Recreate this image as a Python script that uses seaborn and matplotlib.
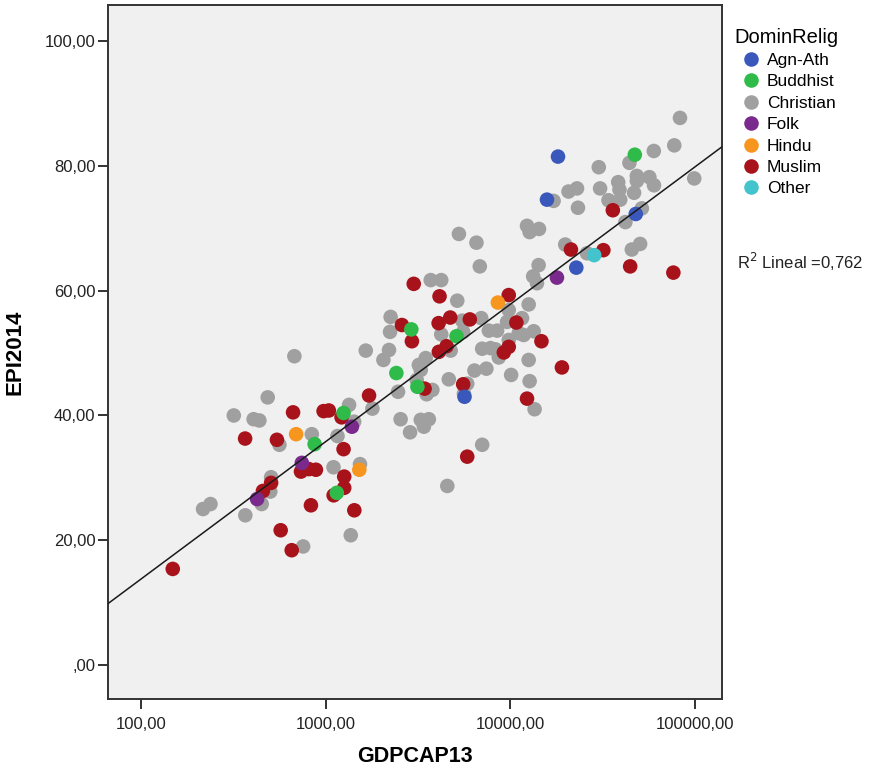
import seaborn as sns
import pandas as pd
import matplotlib.pyplot as plt
import numpy as np

# values (GDP per capita, EPI score)
agn_gdp = [18110, 15780, 47780, 22750, 5640]
agn_epi = [81.5, 74.6, 72.3, 63.7, 43.0]

bud_gdp = [47210, 2904, 2410, 5105, 1247, 869, 3133, 1146]
bud_epi = [81.8, 53.8, 46.8, 52.7, 40.4, 35.4, 44.6, 27.6]

folk_gdp = [17870, 1384, 741, 424]
folk_epi = [62.1, 38.2, 32.4, 26.6]

hindu_gdp = [8550, 690, 1518]
hindu_epi = [58.1, 37.0, 31.3]

other_gdp = [28440]
other_epi = [65.7]

mus_gdp = [35890, 21280, 31890, 44560, 76380, 19010, 14730, 9795, 10770, 9795,
           9210, 12300, 5835, 5545, 2993, 4130, 2583, 2925, 4083, 4720,
           6026, 4508, 4093, 3428, 1714, 972, 1038, 1216, 664, 365,
           543, 733, 809, 883, 505, 456, 830, 569, 653, 148,
           1247, 1257, 1257, 1102, 1426]
mus_epi = [72.9, 66.6, 66.5, 63.9, 62.9, 47.7, 51.9, 59.3, 54.9, 51.0,
           50.1, 42.7, 33.4, 45.0, 61.1, 59.1, 54.5, 51.9, 54.8, 55.7,
           55.4, 51.1, 50.2, 44.3, 43.2, 40.7, 40.8, 39.7, 40.5, 36.3,
           36.1, 31.0, 31.4, 31.3, 29.2, 27.9, 25.6, 21.6, 18.4, 15.4,
           34.6, 30.2, 28.4, 27.2, 24.8]

chr_gdp = [675, 484, 317, 406, 436, 560, 839, 1100, 505, 500,
           449, 216, 237, 366, 753, 3700, 4219, 5152, 2243, 2227,
           5480, 6950, 9590, 9795, 4219, 5545, 7640, 8470, 11090, 9795,
           8300, 7030, 8650, 4745, 1645, 2198, 2050, 3475, 3190, 3267,
           3105, 6385, 7410, 10090, 4635, 5835, 5600, 3777, 3515, 2461,
           1336, 1787, 1423, 1156, 2541, 3267, 3614, 3397, 2859, 7030,
           1531, 4550, 1364, 82960, 77250, 59840, 44150, 30120, 99100, 48420,
           48420, 56620, 59980, 38370, 38990, 30620, 46770, 22960, 20650, 17140,
           33980, 39370, 23230, 51540, 41980, 12300, 12710, 14290, 5260, 6545,
           6825, 19820, 26000, 50460, 45480, 14220, 13280, 13930, 12560, 11560,
           11800, 13370, 7800, 12560, 12710, 13520]
chr_epi = [49.5, 42.9, 40.0, 39.4, 39.2, 35.3, 37.0, 31.7, 30.1, 27.8,
           25.8, 25.0, 25.8, 24.0, 19.0, 61.7, 61.7, 58.4, 55.8, 53.4,
           55.2, 55.6, 55.0, 56.9, 53.0, 53.4, 53.6, 53.6, 53.2, 52.1,
           50.6, 50.7, 49.3, 50.4, 50.4, 50.5, 48.9, 49.2, 48.1, 47.3,
           45.7, 47.2, 47.5, 46.5, 45.8, 45.1, 43.5, 44.1, 43.4, 43.8,
           41.7, 41.1, 39.0, 36.7, 39.4, 39.3, 39.4, 38.2, 37.3, 35.3,
           32.2, 28.7, 20.8, 87.7, 83.3, 82.4, 80.5, 79.8, 78.0, 78.4,
           77.6, 78.2, 76.9, 77.4, 76.2, 76.4, 75.7, 76.4, 75.9, 74.4,
           74.5, 74.6, 73.3, 73.2, 71.0, 70.4, 69.4, 69.9, 69.1, 67.7,
           63.9, 67.4, 66.0, 67.5, 66.6, 64.1, 62.3, 61.2, 57.8, 55.6,
           52.9, 53.5, 50.8, 48.9, 45.5, 41.0]

religions = ['Agn-Ath', 'Buddhist', 'Christian', 'Folk', 'Hindu', 'Muslim', 'Other']
colors = ['#3a58bb', '#2fbb4a', '#a0a0a0', '#7a2a8c', '#f7961e', '#a8131b', '#43c3cb']
r2_text = '0,762'

groups = {'Agn-Ath': (agn_gdp, agn_epi), 'Buddhist': (bud_gdp, bud_epi),
          'Christian': (chr_gdp, chr_epi), 'Folk': (folk_gdp, folk_epi),
          'Hindu': (hindu_gdp, hindu_epi), 'Muslim': (mus_gdp, mus_epi),
          'Other': (other_gdp, other_epi)}
rows = []
for rel, (g, e) in groups.items():
    for a, b in zip(g, e):
        rows.append({'GDPCAP13': a, 'EPI2014': b, 'DominRelig': rel})
df = pd.DataFrame(rows)

plt.rcParams['font.family'] = ['Liberation Sans', 'DejaVu Sans']

fig = plt.figure(figsize=(8.74, 7.71), dpi=100)
ax = fig.add_axes([0.1236, 0.0934, 0.7024, 0.9001])
ax.set_facecolor('#f0f0f0')
ax.set_xscale('log')
ax.set_xlim(66, 140000)
ax.set_ylim(-5.45, 105.8)

# christian first so the coloured points sit on top
order = ['Christian', 'Muslim', 'Agn-Ath', 'Buddhist', 'Folk', 'Hindu', 'Other']
df['_o'] = df['DominRelig'].map({r: i for i, r in enumerate(order)})
df = df.sort_values('_o')

sns.scatterplot(data=df, x='GDPCAP13', y='EPI2014', hue='DominRelig',
                hue_order=religions, palette=dict(zip(religions, colors)),
                s=110, linewidth=0, ax=ax, zorder=3)

sns.regplot(data=df, x='GDPCAP13', y='EPI2014', logx=True, scatter=False,
            ci=None, truncate=False, color='#1a1a1a', line_kws={'lw': 1.1, 'zorder': 4}, ax=ax)
ax.set_xlim(66, 140000)
ax.set_ylim(-5.45, 105.8)

ax.set_xticks([100, 1000, 10000, 100000])
ax.set_xticklabels(['100,00', '1000,00', '10000,00', '100000,00'])
ax.xaxis.set_minor_locator(plt.NullLocator())
yt = [0, 20, 40, 60, 80, 100]
ax.set_yticks(yt)
ax.set_yticklabels([',00' if v == 0 else f'{v},00' for v in yt])
ax.tick_params(axis='both', direction='out', length=7, width=1.3, colors='#222222',
               labelsize=12, labelcolor='#222222', pad=2)
ax.tick_params(axis='x', pad=6)
for sp in ax.spines.values():
    sp.set_color('#333333')
    sp.set_linewidth(1.4)

ax.set_xlabel('GDPCAP13', fontsize=15.5, fontweight='bold', labelpad=10)
ax.set_ylabel('EPI2014', fontsize=16, fontweight='bold', labelpad=14)

handles, labels = ax.get_legend_handles_labels()
leg = ax.legend(handles, labels, title='DominRelig', loc='upper left',
                bbox_to_anchor=(1.0, 0.985), frameon=False, fontsize=12.5,
                title_fontsize=14.5, labelspacing=0.36, handletextpad=0.0,
                handlelength=1.9, borderaxespad=0.3, markerscale=1.0)
leg._legend_box.align = 'left'

fig.text(0.843, 0.660, 'R$^2$ Lineal =' + r2_text, fontsize=12, color='#222222',
         va='center')

plt.savefig('out.png', dpi=100)
